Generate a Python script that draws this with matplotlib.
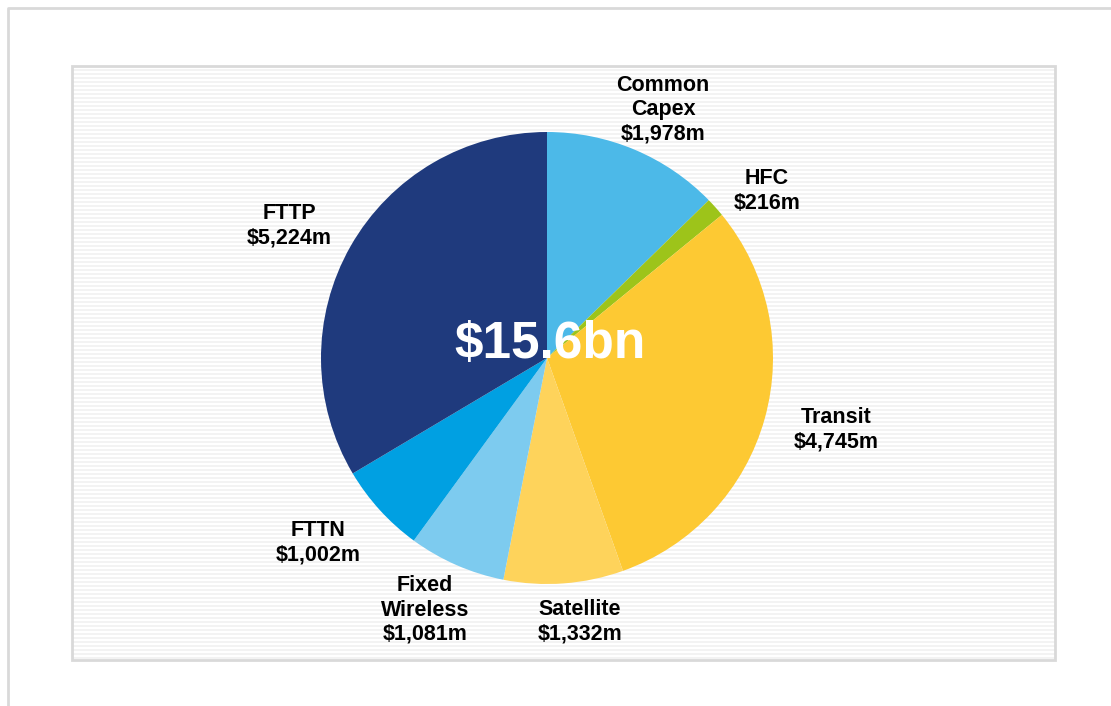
import numpy as np
import matplotlib
matplotlib.use("Agg")
import matplotlib.pyplot as plt
from matplotlib.patches import Rectangle

# data, clockwise from 12 o'clock
segments = ["Common\nCapex", "HFC", "Transit", "Satellite", "Fixed\nWireless", "FTTN", "FTTP"]
values = [1978, 216, 4745, 1332, 1081, 1002, 5224]
colors = ["#4cb9e8", "#9dc41a", "#fdc933", "#fed35b", "#7dcbef", "#00a0e2", "#1f3a7d"]
total_label = "$15.6bn"

# label anchor positions in pixels (x, y from top)
label_pos = [(663, 110), (767, 191), (836, 430), (580, 622), (425, 610), (318, 543), (289, 226)]

W, H = 1111, 706
fig = plt.figure(figsize=(W / 100, H / 100), dpi=100)
ax = fig.add_axes([0, 0, 1, 1])

# outer frame (only top/left visible)
ax.plot([8, 8, W + 5], [-5, H - 8, H - 8], color="#d9d9d9", lw=2, solid_capstyle="butt")

# striped panel
px0, py0, px1, py1 = 72, 66, 1055, 660
ax.add_patch(Rectangle((px0, H - py1), px1 - px0, py1 - py0, facecolor="white",
                       edgecolor="none", zorder=1))
stripes = np.arange(H - py1 + 2, H - py0, 4)
ax.hlines(stripes, px0, px1, colors="#f2f2f2", lw=1.3, zorder=1.5)
ax.add_patch(Rectangle((px0, H - py1), px1 - px0, py1 - py0, facecolor="none",
                       edgecolor="#d9d9d9", lw=2, zorder=2))

cx, cy, r = 547, H - 358, 226
wedges, _ = ax.pie(values, colors=colors, startangle=90, counterclock=False,
                   center=(cx, cy), radius=r, frame=True,
                   wedgeprops=dict(linewidth=0, zorder=3))
ax.set_xlim(0, W)
ax.set_ylim(0, H)
ax.axis("off")
ax.set_aspect("equal")

for name, val, (lx, ly) in zip(segments, values, label_pos):
    ax.text(lx, H - ly, f"{name}\n${val:,}m", ha="center", va="center",
            fontsize=15.5, fontweight="bold", family="Liberation Sans",
            linespacing=1.2, color="black", zorder=5)

ax.text(cx + 3, H - 344, total_label, ha="center", va="center", fontsize=37,
        fontweight="bold", family="Liberation Sans", color="white", zorder=6)

fig.savefig("out.png", dpi=100)
